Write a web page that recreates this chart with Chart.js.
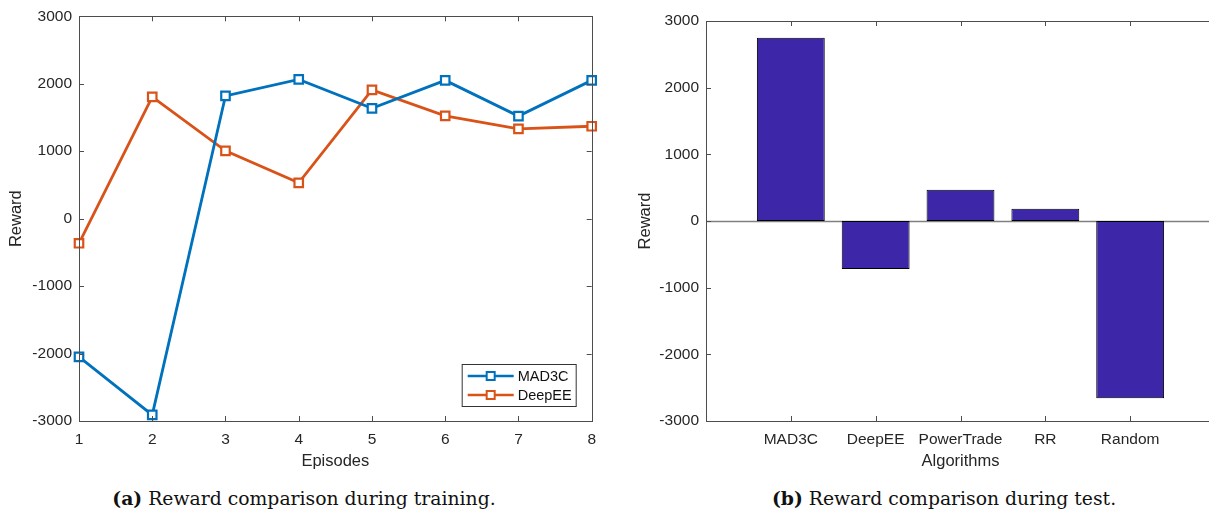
<!DOCTYPE html>
<html>
    <head>
        <meta charset="utf-8">
        <title>Reward comparison</title>
        <script src="https://cdn.jsdelivr.net/npm/chart.js@4.4.1/dist/chart.umd.min.js"></script>
        <style>
            html, body {
                margin: 0;
                padding: 0;
                background: #fff;
                overflow: hidden;
                width: 1209px;
                height: 514px;
            }
            canvas {
                position: absolute;
                top: 0;
            }
            #train { left: 0; }
            #test { left: 605px; }
            .caption {
                position: absolute;
                top: 484px;
                width: 608px;
                text-align: center;
                font-family: 'DejaVu Serif', serif;
                font-size: 18.8px;
                line-height: 28px;
                color: #111;
            }
        </style>
    </head>
    <body>
        <canvas id="train" width="605" height="475"></canvas>
        <canvas id="test" width="620" height="475"></canvas>
        <div class="caption" style="left: 0;"><b>(a)</b> Reward comparison during training.</div>
        <div class="caption" style="left: 640px;"><b>(b)</b> Reward comparison during test.</div>
        <script>
            // (a) training
            const episodes = [1, 2, 3, 4, 5, 6, 7, 8];
            const mad3cTrain = [-2050, -2910, 1820, 2065, 1635, 2050, 1520, 2050];
            const deepeeTrain = [-365, 1805, 1005, 530, 1910, 1525, 1330, 1370];

            // (b) test
            const algorithms = ['MAD3C', 'DeepEE', 'PowerTrade', 'RR', 'Random'];
            const testReward = [2750, -720, 470, 185, -2660];

            const yTicks = [-3000, -2000, -1000, 0, 1000, 2000, 3000];

            const tickFont = { family: "'Liberation Sans', Arial, sans-serif", size: 15.5 };
            const titleFont = { family: "'Liberation Sans', Arial, sans-serif", size: 16.5 };
            const ink = '#262626';

            // box around the plot with inward ticks, like matlab
            const frame = {
                id: 'frame',
                beforeDatasetsDraw(chart, args, opts) {
                    if (!opts.baseline) return;
                    const {ctx, chartArea: a, scales: {y}} = chart;
                    const py = Math.round(y.getPixelForValue(0)) + 0.5;
                    ctx.save();
                    ctx.strokeStyle = '#808080';
                    ctx.lineWidth = 1.5;
                    ctx.beginPath();
                    ctx.moveTo(a.left, py);
                    ctx.lineTo(a.right, py);
                    ctx.stroke();
                    ctx.restore();
                },
                afterDraw(chart, args, opts) {
                    const {ctx, chartArea: a, scales: {x, y}} = chart;
                    const len = 5;
                    ctx.save();
                    ctx.strokeStyle = '#4d4d4d';
                    ctx.lineWidth = 1;
                    ctx.strokeRect(Math.round(a.left) + 0.5, Math.round(a.top) + 0.5,
                        Math.round(a.right - a.left), Math.round(a.bottom - a.top));
                    ctx.beginPath();
                    x.ticks.forEach(t => {
                        if (opts.skipEdge && (t.value === x.min || t.value === x.max)) return;
                        const px = Math.round(x.getPixelForValue(t.value)) + 0.5;
                        ctx.moveTo(px, a.bottom);
                        ctx.lineTo(px, a.bottom - len);
                        ctx.moveTo(px, a.top);
                        ctx.lineTo(px, a.top + len);
                    });
                    y.ticks.forEach(t => {
                        const py = Math.round(y.getPixelForValue(t.value)) + 0.5;
                        ctx.moveTo(a.left, py);
                        ctx.lineTo(a.left + len, py);
                        ctx.moveTo(a.right, py);
                        ctx.lineTo(a.right - len, py);
                    });
                    ctx.stroke();

                    if (opts.legend) {
                        // legend box, bottom right inside the axes
                        const w = 114, h = 42;
                        const lx = a.right - 16 - w, ly = a.bottom - 15 - h;
                        ctx.fillStyle = '#fff';
                        ctx.fillRect(lx, ly, w, h);
                        ctx.strokeStyle = '#333';
                        ctx.strokeRect(lx + 0.5, ly + 0.5, w, h);
                        ctx.font = "14.5px 'Liberation Sans', Arial, sans-serif";
                        ctx.textBaseline = 'middle';
                        chart.data.datasets.forEach((ds, i) => {
                            const ry = ly + 12 + i * 19;
                            ctx.strokeStyle = ds.borderColor;
                            ctx.lineWidth = 2.5;
                            ctx.beginPath();
                            ctx.moveTo(lx + 6, ry);
                            ctx.lineTo(lx + 52, ry);
                            ctx.stroke();
                            ctx.lineWidth = 2;
                            ctx.fillStyle = '#fff';
                            ctx.fillRect(lx + 25, ry - 4, 8, 8);
                            ctx.strokeRect(lx + 25, ry - 4, 8, 8);
                            ctx.fillStyle = '#111';
                            ctx.fillText(ds.label, lx + 56, ry + 1);
                        });
                    }
                    ctx.restore();
                }
            };

            function yScale(width, titlePad) {
                return {
                    min: -3000,
                    max: 3000,
                    afterFit: s => { s.width = width; },
                    afterBuildTicks: s => { s.ticks = yTicks.map(v => ({ value: v })); },
                    grid: { display: false, drawTicks: false },
                    border: { display: false },
                    ticks: { font: tickFont, color: ink, padding: 7, callback: v => String(v) },
                    title: { display: true, text: 'Reward', font: titleFont, color: ink, padding: { top: titlePad, bottom: 4 } }
                };
            }

            const lineSet = (label, color, values) => ({
                label,
                data: episodes.map((e, i) => ({ x: e, y: values[i] })),
                borderColor: color,
                backgroundColor: '#fff',
                borderWidth: 2.8,
                pointStyle: 'rect',
                pointRadius: 6,
                pointBorderWidth: 2.2,
                pointBackgroundColor: '#fff',
                pointBorderColor: color,
                tension: 0,
                clip: false
            });

            new Chart(document.getElementById('train'), {
                type: 'line',
                data: {
                    datasets: [
                        lineSet('MAD3C', '#0072BD', mad3cTrain),
                        lineSet('DeepEE', '#D95319', deepeeTrain)
                    ]
                },
                options: {
                    responsive: false,
                    animation: false,
                    events: [],
                    layout: { padding: { top: 16, right: 12, left: 0, bottom: 0 } },
                    scales: {
                        x: {
                            type: 'linear',
                            min: 1,
                            max: 8,
                            afterFit: s => { s.height = 54; },
                            grid: { display: false, drawTicks: false },
                            border: { display: false },
                            ticks: { stepSize: 1, font: tickFont, color: ink, padding: 9 },
                            title: { display: true, text: 'Episodes', font: titleFont, color: ink, padding: { top: 0, bottom: 4 } }
                        },
                        y: yScale(79, 7)
                    },
                    plugins: {
                        legend: { display: false },
                        tooltip: { enabled: false },
                        frame: { legend: true }
                    }
                },
                plugins: [frame]
            });

            new Chart(document.getElementById('test'), {
                type: 'bar',
                data: {
                    datasets: [{
                        label: 'Reward',
                        data: algorithms.map((a, i) => ({ x: i + 1, y: testReward[i] })),
                        backgroundColor: '#3E26A8',
                        borderColor: '#000',
                        borderWidth: 1,
                        borderSkipped: false,
                        barPercentage: 0.8,
                        categoryPercentage: 1
                    }]
                },
                options: {
                    responsive: false,
                    animation: false,
                    events: [],
                    layout: { padding: { top: 21, right: 10, left: 0, bottom: 0 } },
                    scales: {
                        x: {
                            type: 'linear',
                            offset: false,
                            min: 0,
                            max: 6,
                            afterFit: s => { s.height = 54; },
                            grid: { display: false, drawTicks: false },
                            border: { display: false },
                            ticks: {
                                stepSize: 1,
                                font: tickFont,
                                color: ink,
                                padding: 9,
                                autoSkip: false,
                                maxRotation: 0,
                                callback: v => algorithms[v - 1] || ''
                            },
                            title: { display: true, text: 'Algorithms', font: titleFont, color: ink, padding: { top: 0, bottom: 4 } }
                        },
                        y: yScale(101, 31)
                    },
                    plugins: {
                        legend: { display: false },
                        tooltip: { enabled: false },
                        frame: { skipEdge: true, baseline: true }
                    }
                },
                plugins: [frame]
            });
        </script>
    </body>
</html>
